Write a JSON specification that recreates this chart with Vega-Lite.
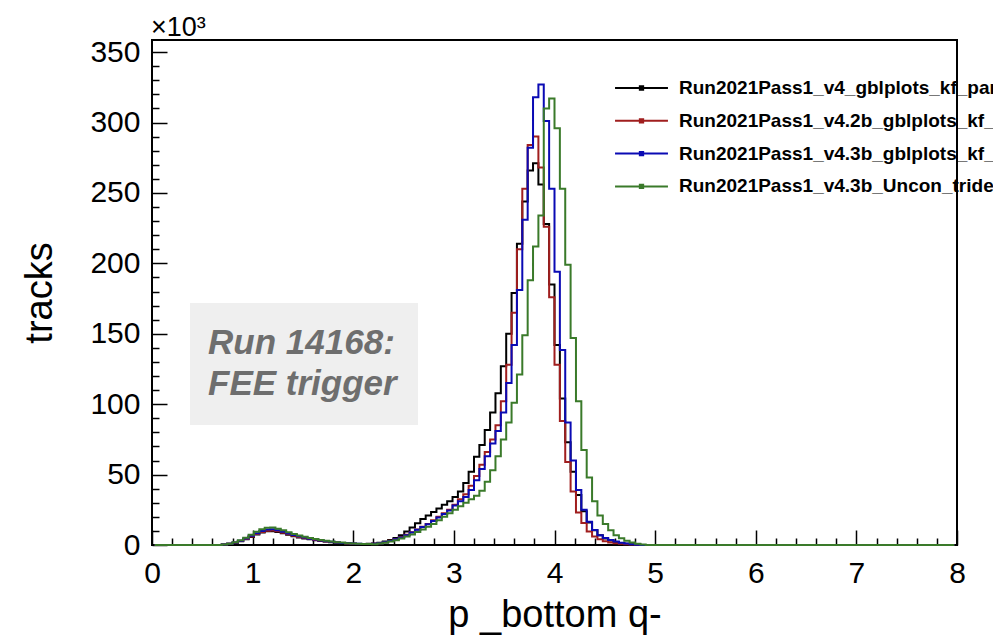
{
  "$schema": "https://vega.github.io/schema/vega-lite/v6.json",
  "width": 805,
  "height": 505,
  "autosize": {"type": "none"},
  "padding": {"left": 152, "top": 40, "right": 36, "bottom": 92},
  "background": "white",
  "config": {"view": {"stroke": "black", "strokeWidth": 2}, "font": "Liberation Sans"},
  "datasets": {
    "hist": [
      {"x":0.0267,"a":0,"b":0,"c":0,"d":0},{"x":0.08,"a":0,"b":0,"c":0,"d":0},{"x":0.1333,"a":0,"b":0,"c":0,"d":0},{"x":0.1867,"a":0,"b":0,"c":0,"d":0},
      {"x":0.24,"a":0,"b":0,"c":0,"d":0},{"x":0.2933,"a":0,"b":0,"c":0,"d":0},{"x":0.3467,"a":0,"b":0,"c":0,"d":0},{"x":0.4,"a":0,"b":0,"c":0,"d":0},
      {"x":0.4533,"a":0,"b":0,"c":0,"d":0},{"x":0.5067,"a":0,"b":0,"c":0,"d":0},{"x":0.56,"a":0,"b":0,"c":0,"d":0},{"x":0.6133,"a":0,"b":0,"c":0,"d":0},
      {"x":0.6667,"a":0,"b":0,"c":0,"d":0},
      {"x":0.72,"a":0.3,"b":0.3,"c":0.3,"d":0.35},
      {"x":0.7733,"a":0.8,"b":0.8,"c":0.9,"d":0.95},
      {"x":0.8267,"a":1.5,"b":1.6,"c":1.7,"d":1.9},
      {"x":0.88,"a":2.7,"b":2.8,"c":3.0,"d":3.4},
      {"x":0.9333,"a":4.1,"b":4.3,"c":4.6,"d":5.2},
      {"x":0.9867,"a":5.7,"b":6.0,"c":6.5,"d":7.2},
      {"x":1.04,"a":7.4,"b":7.8,"c":8.4,"d":9.4},
      {"x":1.0933,"a":8.8,"b":9.3,"c":10.0,"d":11.2},
      {"x":1.1467,"a":9.7,"b":10.2,"c":11.0,"d":12.2},
      {"x":1.2,"a":9.8,"b":10.3,"c":11.1,"d":12.4},
      {"x":1.2533,"a":9.2,"b":9.7,"c":10.5,"d":11.6},
      {"x":1.3067,"a":8.3,"b":8.7,"c":9.4,"d":10.4},
      {"x":1.36,"a":7.2,"b":7.6,"c":8.2,"d":9.1},
      {"x":1.4133,"a":6.3,"b":6.6,"c":7.1,"d":7.9},
      {"x":1.4667,"a":5.4,"b":5.7,"c":6.2,"d":6.8},
      {"x":1.52,"a":4.7,"b":4.9,"c":5.3,"d":5.9},
      {"x":1.5733,"a":4.0,"b":4.2,"c":4.5,"d":5.0},
      {"x":1.6267,"a":3.4,"b":3.6,"c":3.9,"d":4.3},
      {"x":1.68,"a":2.9,"b":3.0,"c":3.2,"d":3.6},
      {"x":1.7333,"a":2.4,"b":2.5,"c":2.7,"d":3.0},
      {"x":1.7867,"a":2.0,"b":2.1,"c":2.3,"d":2.5},
      {"x":1.84,"a":1.6,"b":1.7,"c":1.8,"d":2.0},
      {"x":1.8933,"a":1.3,"b":1.4,"c":1.5,"d":1.7},
      {"x":1.9467,"a":1.0,"b":1.1,"c":1.2,"d":1.3},
      {"x":2.0,"a":0.85,"b":0.9,"c":1.0,"d":1.1},
      {"x":2.0533,"a":0.7,"b":0.75,"c":0.8,"d":0.9},
      {"x":2.1067,"a":0.7,"b":0.7,"c":0.7,"d":0.75},
      {"x":2.16,"a":0.8,"b":0.75,"c":0.75,"d":0.7},
      {"x":2.2133,"a":1.0,"b":0.8,"c":0.8,"d":0.6},
      {"x":2.2667,"a":1.6,"b":1.3,"c":1.3,"d":1.0},
      {"x":2.32,"a":2.5,"b":2.0,"c":2.0,"d":1.6},
      {"x":2.3733,"a":3.6,"b":3.0,"c":2.9,"d":2.4},
      {"x":2.4267,"a":5.0,"b":4.2,"c":4.0,"d":3.4},
      {"x":2.48,"a":7.0,"b":5.6,"c":5.4,"d":4.6},
      {"x":2.5333,"a":9.5,"b":7.2,"c":7.0,"d":6.0},
      {"x":2.5867,"a":12.5,"b":9.0,"c":8.8,"d":7.5},
      {"x":2.64,"a":15.5,"b":11,"c":10.8,"d":9.2},
      {"x":2.6933,"a":18.5,"b":13,"c":12.8,"d":11},
      {"x":2.7467,"a":21,"b":15,"c":14.8,"d":13},
      {"x":2.8,"a":23.5,"b":17.5,"c":17,"d":15},
      {"x":2.8533,"a":26,"b":20,"c":19.5,"d":17.5},
      {"x":2.9067,"a":28.5,"b":22.5,"c":22,"d":20},
      {"x":2.96,"a":31,"b":25,"c":24.5,"d":22.5},
      {"x":3.0133,"a":34,"b":28.5,"c":28,"d":25},
      {"x":3.0667,"a":38,"b":32.5,"c":31,"d":27.5},
      {"x":3.12,"a":44,"b":36,"c":34,"d":30},
      {"x":3.1733,"a":52,"b":42,"c":39,"d":32.5},
      {"x":3.2267,"a":62.7,"b":49,"c":46,"d":35},
      {"x":3.28,"a":71,"b":57,"c":54,"d":38.5},
      {"x":3.3333,"a":81.7,"b":66,"c":63,"d":45},
      {"x":3.3867,"a":94,"b":75,"c":72,"d":53},
      {"x":3.44,"a":107.7,"b":85,"c":81,"d":63},
      {"x":3.4933,"a":127,"b":102,"c":94,"d":75},
      {"x":3.5467,"a":150,"b":128,"c":115,"d":87},
      {"x":3.6,"a":179,"b":165,"c":142,"d":101},
      {"x":3.6533,"a":214,"b":210,"c":181,"d":121},
      {"x":3.7067,"a":244,"b":253,"c":231,"d":149},
      {"x":3.76,"a":266,"b":284,"c":282,"d":188},
      {"x":3.8133,"a":271,"b":290,"c":318,"d":212},
      {"x":3.8667,"a":256,"b":268,"c":327,"d":234},
      {"x":3.92,"a":228,"b":226,"c":301,"d":310},
      {"x":3.9733,"a":185,"b":176,"c":253,"d":317},
      {"x":4.0267,"a":142,"b":128,"c":194,"d":296},
      {"x":4.08,"a":104,"b":88,"c":138.5,"d":253},
      {"x":4.1333,"a":73,"b":59,"c":87,"d":199},
      {"x":4.1867,"a":52,"b":38,"c":60,"d":147},
      {"x":4.24,"a":35.5,"b":23,"c":39,"d":102},
      {"x":4.2933,"a":24,"b":15.6,"c":25,"d":67.5},
      {"x":4.3467,"a":16,"b":9.5,"c":16.5,"d":48},
      {"x":4.4,"a":10.5,"b":6,"c":10.6,"d":31},
      {"x":4.4533,"a":7,"b":4,"c":7,"d":21},
      {"x":4.5067,"a":4.7,"b":2.7,"c":5,"d":15},
      {"x":4.56,"a":3.2,"b":1.8,"c":3.5,"d":10.5},
      {"x":4.6133,"a":2.1,"b":1.2,"c":2.4,"d":7},
      {"x":4.6667,"a":1.4,"b":0.8,"c":1.6,"d":4.8},
      {"x":4.72,"a":0.9,"b":0.5,"c":1.0,"d":3},
      {"x":4.7733,"a":0.5,"b":0.3,"c":0.5,"d":1.8},
      {"x":4.8267,"a":0.2,"b":0.1,"c":0.2,"d":0.9},
      {"x":4.88,"a":0,"b":0,"c":0,"d":0.3},
      {"x":4.9333,"a":0,"b":0,"c":0,"d":0},{"x":4.9867,"a":0,"b":0,"c":0,"d":0},{"x":5.04,"a":0,"b":0,"c":0,"d":0},{"x":5.0933,"a":0,"b":0,"c":0,"d":0},
      {"x":5.1467,"a":0,"b":0,"c":0,"d":0},{"x":5.2,"a":0,"b":0,"c":0,"d":0},{"x":5.2533,"a":0,"b":0,"c":0,"d":0},{"x":5.3067,"a":0,"b":0,"c":0,"d":0},
      {"x":5.36,"a":0,"b":0,"c":0,"d":0},{"x":5.4133,"a":0,"b":0,"c":0,"d":0},{"x":5.4667,"a":0,"b":0,"c":0,"d":0},{"x":5.52,"a":0,"b":0,"c":0,"d":0},
      {"x":5.5733,"a":0,"b":0,"c":0,"d":0},{"x":5.6267,"a":0,"b":0,"c":0,"d":0},{"x":5.68,"a":0,"b":0,"c":0,"d":0},{"x":5.7333,"a":0,"b":0,"c":0,"d":0},
      {"x":5.7867,"a":0,"b":0,"c":0,"d":0},{"x":5.84,"a":0,"b":0,"c":0,"d":0},{"x":5.8933,"a":0,"b":0,"c":0,"d":0},{"x":5.9467,"a":0,"b":0,"c":0,"d":0},
      {"x":6.0,"a":0,"b":0,"c":0,"d":0},{"x":6.0533,"a":0,"b":0,"c":0,"d":0},{"x":6.1067,"a":0,"b":0,"c":0,"d":0},{"x":6.16,"a":0,"b":0,"c":0,"d":0},
      {"x":6.2133,"a":0,"b":0,"c":0,"d":0},{"x":6.2667,"a":0,"b":0,"c":0,"d":0},{"x":6.32,"a":0,"b":0,"c":0,"d":0},{"x":6.3733,"a":0,"b":0,"c":0,"d":0},
      {"x":6.4267,"a":0,"b":0,"c":0,"d":0},{"x":6.48,"a":0,"b":0,"c":0,"d":0},{"x":6.5333,"a":0,"b":0,"c":0,"d":0},{"x":6.5867,"a":0,"b":0,"c":0,"d":0},
      {"x":6.64,"a":0,"b":0,"c":0,"d":0},{"x":6.6933,"a":0,"b":0,"c":0,"d":0},{"x":6.7467,"a":0,"b":0,"c":0,"d":0},{"x":6.8,"a":0,"b":0,"c":0,"d":0},
      {"x":6.8533,"a":0,"b":0,"c":0,"d":0},{"x":6.9067,"a":0,"b":0,"c":0,"d":0},{"x":6.96,"a":0,"b":0,"c":0,"d":0},{"x":7.0133,"a":0,"b":0,"c":0,"d":0},
      {"x":7.0667,"a":0,"b":0,"c":0,"d":0},{"x":7.12,"a":0,"b":0,"c":0,"d":0},{"x":7.1733,"a":0,"b":0,"c":0,"d":0},{"x":7.2267,"a":0,"b":0,"c":0,"d":0},
      {"x":7.28,"a":0,"b":0,"c":0,"d":0},{"x":7.3333,"a":0,"b":0,"c":0,"d":0},{"x":7.3867,"a":0,"b":0,"c":0,"d":0},{"x":7.44,"a":0,"b":0,"c":0,"d":0},
      {"x":7.4933,"a":0,"b":0,"c":0,"d":0},{"x":7.5467,"a":0,"b":0,"c":0,"d":0},{"x":7.6,"a":0,"b":0,"c":0,"d":0},{"x":7.6533,"a":0,"b":0,"c":0,"d":0},
      {"x":7.7067,"a":0,"b":0,"c":0,"d":0},{"x":7.76,"a":0,"b":0,"c":0,"d":0},{"x":7.8133,"a":0,"b":0,"c":0,"d":0},{"x":7.8667,"a":0,"b":0,"c":0,"d":0},
      {"x":7.92,"a":0,"b":0,"c":0,"d":0},{"x":7.9733,"a":0,"b":0,"c":0,"d":0}
    ]
  },
  "layer": [
    {
      "data": {"values": [{}]},
      "mark": {"type": "rect", "fill": "#efefef", "strokeWidth": 0},
      "encoding": {
        "x": {"datum": 0.378, "type": "quantitative", "axis": null, "scale": {"domain": [0, 8], "nice": false, "zero": false}},
        "x2": {"datum": 2.644},
        "y": {"datum": 171.9, "type": "quantitative", "axis": null, "scale": {"domain": [0, 358.6], "nice": false, "zero": false}},
        "y2": {"datum": 85.2}
      }
    },
    {
      "data": {"values": [{}]},
      "mark": {"type": "text", "text": ["Run 14168:", "FEE trigger"], "align": "left", "baseline": "middle", "font": "Liberation Sans", "fontSize": 35, "fontStyle": "italic", "fontWeight": "bold", "color": "#6e6e6e", "lineHeight": 41},
      "encoding": {
        "x": {"datum": 0.557, "type": "quantitative", "axis": null, "scale": {"domain": [0, 8], "nice": false, "zero": false}},
        "y": {"datum": 143.5, "type": "quantitative", "axis": null, "scale": {"domain": [0, 358.6], "nice": false, "zero": false}}
      }
    },
    {
      "data": {"values": [{}]},
      "mark": {"type": "text", "text": "×10³", "align": "left", "baseline": "alphabetic", "dy": -4, "dx": -1, "font": "Liberation Sans", "fontSize": 27, "color": "black"},
      "encoding": {
        "x": {"datum": 0, "type": "quantitative", "axis": null, "scale": {"domain": [0, 8], "nice": false, "zero": false}},
        "y": {"datum": 358.6, "type": "quantitative", "axis": null, "scale": {"domain": [0, 358.6], "nice": false, "zero": false}}
      }
    },
    {
      "data": {"name": "hist"},
      "transform": [{"fold": ["a", "b", "c", "d"], "as": ["s", "y"]}],
      "mark": {"type": "line", "interpolate": "step", "strokeWidth": 2, "strokeJoin": "miter"},
      "encoding": {
        "x": {"field": "x", "type": "quantitative", "scale": {"domain": [0, 8], "nice": false, "zero": false},
          "axis": {"orient": "bottom", "values": [0, 1, 2, 3, 4, 5, 6, 7, 8], "format": "d", "tickSize": -15, "tickWidth": 1.5, "tickColor": "black", "domain": false, "grid": false,
            "labelFont": "Liberation Sans", "labelFontSize": 30, "labelColor": "black", "labelPadding": 28, "labelFlush": false, "labelOverlap": false, "labelBound": false,
            "title": "p _bottom q-", "titleFont": "Liberation Sans", "titleFontSize": 38, "titleFontWeight": "normal", "titleColor": "black", "titlePadding": 8}},
        "y": {"field": "y", "type": "quantitative", "scale": {"domain": [0, 358.6], "nice": false, "zero": false},
          "axis": {"orient": "left", "values": [0, 50, 100, 150, 200, 250, 300, 350], "format": "d", "tickSize": -15, "tickWidth": 1.5, "tickColor": "black", "domain": false, "grid": false,
            "labelFont": "Liberation Sans", "labelFontSize": 30, "labelColor": "black", "labelPadding": 27, "labelFlush": false, "labelOverlap": false, "labelBound": false,
            "title": "tracks", "titleFont": "Liberation Sans", "titleFontSize": 38, "titleFontWeight": "normal", "titleColor": "black", "titlePadding": 30}},
        "stroke": {"field": "s", "type": "nominal", "scale": {"domain": ["a", "b", "c", "d"], "range": ["#000000", "#a01e1e", "#0a0ab4", "#3a7a2a"]},
          "legend": {"orient": "none", "legendX": 480, "legendY": 38.5, "title": null, "padding": 0,
            "symbolType": "M-4,0H4M-0.25,-0.25H0.25V0.25H-0.25Z", "symbolSize": 175, "symbolStrokeWidth": 2, "symbolOpacity": 1,
            "rowPadding": 12.8, "labelOffset": 28, "labelLimit": 600, "labelFont": "Liberation Sans", "labelFontSize": 19, "labelFontWeight": "bold", "labelColor": "black",
            "labelExpr": "datum.value == 'a' ? 'Run2021Pass1_v4_gblplots_kf_par' : datum.value == 'b' ? 'Run2021Pass1_v4.2b_gblplots_kf_' : datum.value == 'c' ? 'Run2021Pass1_v4.3b_gblplots_kf_' : 'Run2021Pass1_v4.3b_Uncon_tride'"}}
      }
    },
    {
      "data": {"name": "hist"},
      "transform": [{"fold": ["a", "b", "c", "d"], "as": ["s", "y"]}],
      "mark": {"type": "point", "opacity": 0, "size": 1},
      "encoding": {
        "x": {"field": "x", "type": "quantitative", "scale": {"domain": [0, 8], "nice": false, "zero": false},
          "axis": {"orient": "bottom", "values": [0.2,0.4,0.6,0.8,1.2,1.4,1.6,1.8,2.2,2.4,2.6,2.8,3.2,3.4,3.6,3.8,4.2,4.4,4.6,4.8,5.2,5.4,5.6,5.8,6.2,6.4,6.6,6.8,7.2,7.4,7.6,7.8], "tickSize": -7, "tickWidth": 1.5, "tickColor": "black", "domain": false, "grid": false, "labels": false, "title": null}},
        "y": {"field": "y", "type": "quantitative", "scale": {"domain": [0, 358.6], "nice": false, "zero": false},
          "axis": {"orient": "left", "values": [10,20,30,40,60,70,80,90,110,120,130,140,160,170,180,190,210,220,230,240,260,270,280,290,310,320,330,340], "tickSize": -7, "tickWidth": 1.5, "tickColor": "black", "domain": false, "grid": false, "labels": false, "title": null}}
      }
    }
  ],
  "resolve": {"axis": {"x": "independent", "y": "independent"}}
}
